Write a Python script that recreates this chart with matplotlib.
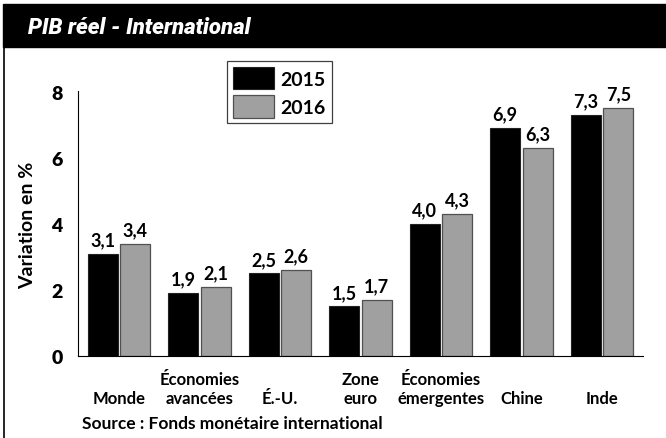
import matplotlib as mpl
mpl.use("Agg")
import matplotlib.pyplot as plt
from matplotlib.patches import Rectangle
from matplotlib.lines import Line2D
import numpy as np

#
# --- chart data
#
categories = ["Monde", "Économies\navancées", "É.-U.", "Zone\neuro",
              "Économies\némergentes", "Chine", "Inde"]
values_2015 = [3.1, 1.9, 2.5, 1.5, 4.0, 6.9, 7.3]
values_2016 = [3.4, 2.1, 2.6, 1.7, 4.3, 6.3, 7.5]
series_names = ["2015", "2016"]
yticks = [0, 2, 4, 6, 8]

TITLE = "PIB réel - International"
YLABEL = "Variation en %"
SOURCE = "Source : Fonds monétaire international"

FONT = ["Lato", "DejaVu Sans"]
plt.rcParams["font.family"] = FONT

W, H = 666, 439
fig = plt.figure(figsize=(W / 100, H / 100), dpi=100)


def fx(px):
    return px / W


def fy(py):
    return 1 - py / H


#
# --- title bar and left frame line
#
fig.patches.append(Rectangle((fx(3), fy(48)), fx(663), 43 / H,
                             transform=fig.transFigure, color="black", zorder=0))
fig.lines.append(Line2D([fx(3.5), fx(3.5)], [fy(48), 0], transform=fig.transFigure,
                        color="black", lw=1.2))
fig.text(fx(28), fy(28), TITLE, color="white", fontsize=16, fontweight="heavy",
         fontstyle="italic", va="center", ha="left",
         family=["Roboto", "Lato", "DejaVu Sans"])

#
# --- plotting area
#
ax = fig.add_axes([fx(78), fy(357), fx(642.7) - fx(78), (357 - 91.7) / H])
x = np.arange(len(categories))
bw = 0.373
off = 0.202
b1 = ax.bar(x - off, values_2015, bw, color="black", edgecolor="#222222",
            linewidth=0.8, label=series_names[0])
b2 = ax.bar(x + off, values_2016, bw, color="#a0a0a0", edgecolor="#505050",
            linewidth=0.9, label=series_names[1])

for bars, vals in [(b1, values_2015), (b2, values_2016)]:
    ax.bar_label(bars, labels=[f"{v:.1f}".replace(".", ",") for v in vals],
                 padding=4, fontsize=13, fontweight="bold")

ax.set_xlim(-0.51, 6.506)
ax.set_ylim(0, 8.03)
ax.set_yticks(yticks)
ax.set_yticklabels([str(t) for t in yticks], fontsize=14, fontweight="heavy")
ax.set_xticks(x)
ax.set_xticklabels(categories, fontsize=12, fontweight="bold", linespacing=1.25)
for lab in ax.get_xticklabels():
    lab.set_verticalalignment("bottom")
ax.tick_params(axis="x", length=0, pad=36)
ax.tick_params(axis="y", length=0, pad=11)
for s in ["top", "right"]:
    ax.spines[s].set_visible(False)
ax.spines["left"].set_linewidth(0.8)
ax.spines["bottom"].set_linewidth(0.8)

fig.text(fx(28), fy(225), YLABEL, rotation=90, fontsize=14, fontweight="bold",
         ha="center", va="center")

leg = ax.legend(loc="upper left", bbox_to_anchor=(fx(227), fy(62)),
                bbox_transform=fig.transFigure,
                prop={"weight": "bold", "size": 14}, handlelength=2.1,
                handleheight=1.4, handletextpad=0.35, borderpad=0.3,
                labelspacing=0.3, fancybox=False, framealpha=1,
                edgecolor="#404040", borderaxespad=0)
leg.get_frame().set_linewidth(0.9)

fig.text(fx(81.7), fy(424), SOURCE, fontsize=12.5, fontweight="bold",
         ha="left", va="center")

fig.savefig("out.png", dpi=100)
